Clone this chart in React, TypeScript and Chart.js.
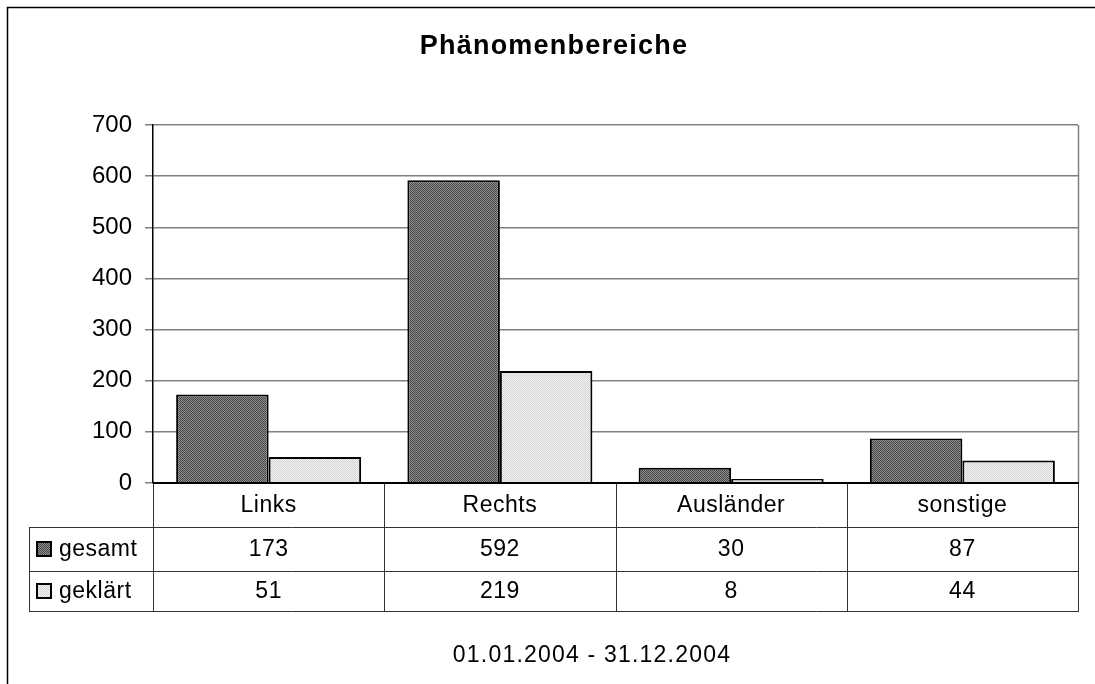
import React, { useEffect, useRef } from "react";
import { Chart, registerables } from "chart.js";

Chart.register(...registerables);

const TITLE = "Phänomenbereiche";
const FOOTER = "01.01.2004 - 31.12.2004";
const categories = ["Links", "Rechts", "Ausländer", "sonstige"];
const seriesNames = ["gesamt", "geklärt"];
const gesamt = [173, 592, 30, 87];
const geklaert = [51, 219, 8, 44];
const yTicks = [0, 100, 200, 300, 400, 500, 600, 700];

const FONT = '"Liberation Sans", Arial, sans-serif';

function makePattern(dark: boolean): CanvasPattern | string {
  const c = document.createElement("canvas");
  c.width = 2;
  c.height = 2;
  const g = c.getContext("2d");
  if (!g) return dark ? "#666" : "#e6e6e6";
  const a = dark ? "#474747" : "#d2d2d2";
  const b = dark ? "#8e8e8e" : "#f4f4f4";
  g.fillStyle = b;
  g.fillRect(0, 0, 2, 2);
  g.fillStyle = a;
  g.fillRect(0, 0, 1, 1);
  g.fillRect(1, 1, 1, 1);
  const ctx = document.createElement("canvas").getContext("2d");
  const p = ctx ? ctx.createPattern(c, "repeat") : null;
  return p || (dark ? "#666" : "#e6e6e6");
}

export default function App() {
  const ref = useRef<HTMLCanvasElement | null>(null);

  useEffect(() => {
    const canvas = ref.current;
    if (!canvas) return;
    const patterns = [makePattern(true), makePattern(false)];
    const values = [gesamt, geklaert];

    const tablePlugin = {
      id: "tablePlugin",
      afterDraw(chart: any) {
        const ctx: CanvasRenderingContext2D = chart.ctx;
        const area = chart.chartArea;
        const L = area.left;
        const R = area.right;
        const top = area.bottom;
        const r1 = top + 44;
        const r2 = r1 + 44;
        const r3 = r2 + 40;
        const legL = 29;
        const colW = (R - L) / categories.length;
        ctx.save();
        // outer frame (top/left visible)
        ctx.strokeStyle = "#000";
        ctx.lineWidth = 1.5;
        ctx.strokeRect(7.5, 7.5, 3000, 3000);

        // plot right border
        ctx.strokeStyle = "#808080";
        ctx.lineWidth = 1.5;
        ctx.beginPath();
        ctx.moveTo(R + 0.5, area.top);
        ctx.lineTo(R + 0.5, top);
        ctx.stroke();

        // table lines
        ctx.strokeStyle = "#333";
        ctx.lineWidth = 1;
        ctx.beginPath();
        for (let i = 0; i <= categories.length; i++) {
          const x = Math.round(L + i * colW) + 0.5;
          ctx.moveTo(x, top);
          ctx.lineTo(x, r3);
        }
        ctx.moveTo(legL + 0.5, r1);
        ctx.lineTo(legL + 0.5, r3);
        ctx.moveTo(legL, r1 + 0.5);
        ctx.lineTo(R + 1, r1 + 0.5);
        ctx.moveTo(legL, r2 + 0.5);
        ctx.lineTo(R + 1, r2 + 0.5);
        ctx.moveTo(legL, r3 + 0.5);
        ctx.lineTo(R + 1, r3 + 0.5);
        ctx.stroke();
        ctx.strokeStyle = "#000";
        ctx.lineWidth = 2;
        ctx.beginPath();
        ctx.moveTo(L, top);
        ctx.lineTo(R + 1, top);
        ctx.stroke();

        // text
        ctx.fillStyle = "#000";
        ctx.font = `23px ${FONT}`;
        (ctx as any).letterSpacing = "0.5px";
        ctx.textAlign = "center";
        ctx.textBaseline = "middle";
        categories.forEach((c, i) => {
          const cx = L + (i + 0.5) * colW;
          ctx.fillText(c, cx, (top + r1) / 2 + 1);
          ctx.fillText(String(gesamt[i]), cx, (r1 + r2) / 2 + 1);
          ctx.fillText(String(geklaert[i]), cx, (r2 + r3) / 2 + 1);
        });
        // legend
        const rows = [(r1 + r2) / 2, (r2 + r3) / 2];
        seriesNames.forEach((s, i) => {
          const cy = rows[i];
          ctx.fillStyle = patterns[i] as any;
          ctx.fillRect(37, cy - 7, 14, 14);
          ctx.strokeStyle = "#000";
          ctx.lineWidth = 2;
          ctx.strokeRect(37, cy - 7, 14, 14);
          ctx.fillStyle = "#000";
          ctx.textAlign = "left";
          ctx.fillText(s, 59, cy + 1);
        });

        // title
        ctx.textAlign = "center";
        ctx.font = `bold 27px ${FONT}`;
        (ctx as any).letterSpacing = "1.2px";
        ctx.fillText(TITLE, 554, 47);
        // footer
        ctx.font = `23px ${FONT}`;
        (ctx as any).letterSpacing = "1.2px";
        ctx.fillText(FOOTER, 592, 656);
        ctx.restore();
      },
    };

    const chart = new Chart(canvas, {
      type: "bar",
      data: {
        labels: categories,
        datasets: [
          {
            label: seriesNames[0],
            data: values[0],
            backgroundColor: patterns[0] as any,
            borderColor: "#000",
            borderWidth: 2,
            categoryPercentage: 0.8,
            barPercentage: 1,
          },
          {
            label: seriesNames[1],
            data: values[1],
            backgroundColor: patterns[1] as any,
            borderColor: "#000",
            borderWidth: 2,
            categoryPercentage: 0.8,
            barPercentage: 1,
          },
        ],
      },
      options: {
        responsive: false,
        animation: false,
        layout: { padding: { top: 125, bottom: 201, right: 17, left: 0 } },
        plugins: {
          legend: { display: false },
          title: { display: false },
          tooltip: { enabled: false },
        },
        scales: {
          x: { display: false },
          y: {
            min: 0,
            max: 700,
            afterFit: (scale: any) => {
              scale.width = 153;
            },
            afterBuildTicks: (scale: any) => {
              scale.ticks = yTicks.map((v) => ({ value: v }));
            },
            ticks: {
              color: "#000",
              padding: 13,
              font: { family: FONT, size: 24 },
            },
            grid: {
              color: "#808080",
              lineWidth: 1.5,
              tickLength: 8,
              drawTicks: true,
            },
            border: { color: "#000", width: 1.5 },
          },
        },
      },
      plugins: [tablePlugin],
    } as any);
    return () => chart.destroy();
  }, []);

  return (
    <div style={{ position: "absolute", left: 0, top: 0, width: 1095, height: 684, background: "#fff" }}>
      <canvas ref={ref} width={1095} height={684} style={{ display: "block" }} />
    </div>
  );
}
